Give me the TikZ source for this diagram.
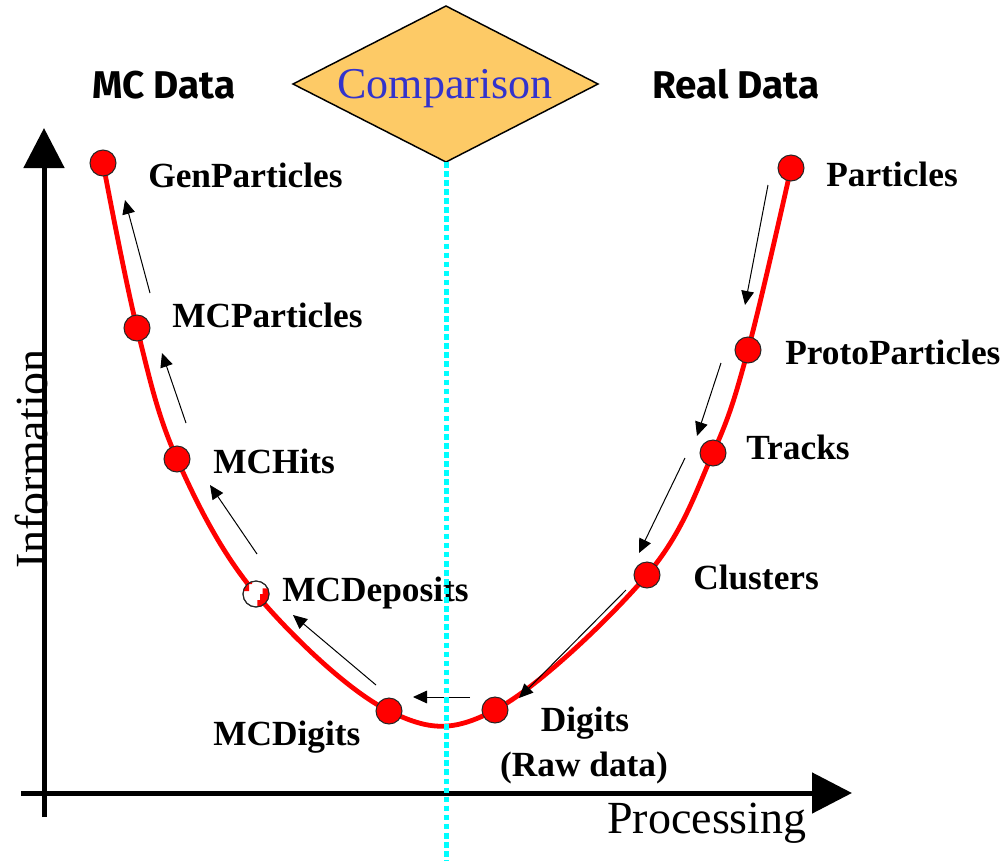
\documentclass[tikz,border=0pt]{standalone}
\usepackage{fontspec}
\setmainfont{Liberation Serif}
\newfontfamily\comicfont{Fira Sans}
\usetikzlibrary{arrows.meta}
\definecolor{diafill}{RGB}{253,202,102}
\definecolor{comblue}{RGB}{51,51,204}
\definecolor{dashcyan}{RGB}{0,255,255}
\begin{document}
\begin{tikzpicture}[x=0.75pt,y=-0.75pt,
 lbl/.style={font=\fontsize{26.5}{30}\selectfont\bfseries, anchor=base west, inner sep=0pt},
 dot/.style={circle, fill=red, draw=black!85, line width=0.75pt, minimum size=19.5pt, inner sep=0pt},
 flow/.style={line width=0.75pt, -{Triangle[length=10.5pt,width=9.5pt]}},
 axis/.style={line width=3.75pt, -{Triangle[length=30pt,width=30pt]}},
 hdr/.style={font=\comicfont\bfseries\fontsize{29}{32}\selectfont, anchor=base west, inner sep=0pt},
 axlbl/.style={font=\fontsize{34.5}{38}\selectfont, inner sep=0pt},
 curve/.style={red, line width=3.6pt}]
\useasboundingbox (0,0) rectangle (1001,861);
% axes
\coordinate (yb) at (44,817); \coordinate (yt) at (44,128);
\coordinate (xl) at (21,793); \coordinate (xr) at (852,793);
\draw[axis] (yb) -- (yt);
\draw[axis] (xl) -- (xr);
\node[axlbl, rotate=90, anchor=base] (info) at (47,459) {Information};
\node[axlbl, anchor=base] (proc) at (707,833) {Processing};
% diamond
\coordinate (dl) at (293,84); \coordinate (dt) at (446,6);
\coordinate (dr) at (598,84); \coordinate (diabot) at (446,162);
\draw[fill=diafill, line width=1.1pt] (dl) -- (dt) -- (dr) -- (diabot) -- cycle;
\node[font=\fontsize{33}{36}\selectfont, text=comblue, anchor=base, inner sep=0pt] (comp) at (445,98) {Comparison};
\node[hdr] (mcdata) at (92,98) {MC Data};
\node[hdr] (realdata) at (652,98) {Real Data};
% curve points
\coordinate (pgen) at (103,163);
\coordinate (pmcp) at (137,328);
\coordinate (pmch) at (177,459);
\coordinate (pmcd) at (256,594);
\coordinate (pmcdig) at (389,711);
\coordinate (pdig) at (495,710);
\coordinate (pclu) at (647,575);
\coordinate (ptrk) at (713,453);
\coordinate (pproto) at (748,350);
\coordinate (ppart) at (791,168);
\draw[curve] plot[smooth, tension=0.6] coordinates {(pgen) (pmcp) (pmch) (pmcd) (pmcdig) (pdig) (pclu) (ptrk) (pproto) (ppart)};
% dots
\node[dot] (gen) at (pgen) {};
\node[dot] (mcp) at (pmcp) {};
\node[dot] (mch) at (pmch) {};
\node[dot, fill=white] (mcd) at (pmcd) {};
\begin{scope}
\clip (mcd.center) circle (9.75pt);
\fill[red] (262.7,588.3) -- (272,588.3) -- (272,610) -- (257.3,610) -- (257.3,600) -- (260,600) -- (260,594) -- (262.7,594) -- cycle;
\fill[red] (238,578) -- (252,578) -- (252,584) -- (249,584) -- (249,591) -- (238,591) -- cycle;
\end{scope}
\draw[black!85, line width=0.75pt] (mcd.center) circle (9.75pt);
\node[dot] (mcdig) at (pmcdig) {};
\node[dot] (dig) at (pdig) {};
\node[dot] (clu) at (pclu) {};
\node[dot] (trk) at (ptrk) {};
\node[dot] (proto) at (pproto) {};
\node[dot] (part) at (ppart) {};
% labels
\node[lbl] (lgen) at (148,187) {GenParticles};
\node[lbl] (lmcp) at (172,327) {MCParticles};
\node[lbl] (lmch) at (213,473) {MCHits};
\node[lbl] (lmcd) at (282,601) {MCDeposits};
\node[lbl] (lmcdig) at (213,745) {MCDigits};
\node[lbl, anchor=base] (ldig) at (585,731) {Digits};
\node[lbl, anchor=base] (lraw) at (584,776) {(Raw data)};
\node[lbl] (lclu) at (693,589) {Clusters};
\node[lbl] (ltrk) at (746,459) {Tracks};
\node[lbl] (lproto) at (785,364) {ProtoParticles};
\node[lbl] (lpart) at (826,186) {Particles};
% flow arrows
\coordinate (a1s) at (150,293); \coordinate (a1e) at (125,200);
\coordinate (a2s) at (186,423); \coordinate (a2e) at (162,353);
\coordinate (a3s) at (257,554); \coordinate (a3e) at (210,485);
\coordinate (a4s) at (376,685); \coordinate (a4e) at (293,615);
\coordinate (a5s) at (470,697); \coordinate (a5e) at (413,697);
\coordinate (a6s) at (768,185); \coordinate (a6e) at (745,305);
\coordinate (a7s) at (721,363); \coordinate (a7e) at (697,436);
\coordinate (a8s) at (685,458); \coordinate (a8e) at (639,553);
\coordinate (a9s) at (626,590); \coordinate (a9e) at (519,698);
\foreach \i in {1,...,9} {\draw[flow] (a\i s) -- (a\i e);}
% dashed separator
\coordinate (dashend) at (446,861);
\draw[dashcyan, line width=3.75pt, dash pattern=on 4.2pt off 2.6pt] (diabot) -- (dashend);
\end{tikzpicture}
\end{document}
